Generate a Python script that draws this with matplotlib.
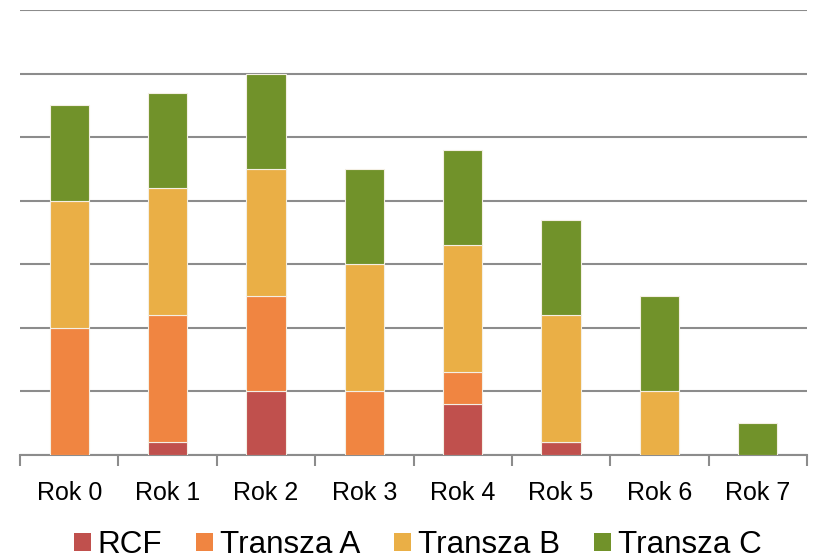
import matplotlib
matplotlib.use("Agg")
import matplotlib.pyplot as plt
from matplotlib.patches import Patch

categories = ["Rok 0", "Rok 1", "Rok 2", "Rok 3", "Rok 4", "Rok 5", "Rok 6", "Rok 7"]
series_names = ["RCF", "Transza A", "Transza B", "Transza C"]
rcf = [0.0, 0.2, 1.0, 0.0, 0.8, 0.2, 0.0, 0.0]
transza_a = [2.0, 2.0, 1.5, 1.0, 0.5, 0.0, 0.0, 0.0]
transza_b = [2.0, 2.0, 2.0, 2.0, 2.0, 2.0, 1.0, 0.0]
transza_c = [1.5, 1.5, 1.5, 1.5, 1.5, 1.5, 1.5, 0.5]
colors = ["#C0504D", "#F08541", "#EAAF46", "#71922A"]

plt.rcParams["font.family"] = ["Liberation Sans", "DejaVu Sans"]

fig = plt.figure(figsize=(8.13, 5.59), dpi=100)
ax = fig.add_axes([20 / 813, 104 / 559, 787 / 813, 445 / 559])

x = list(range(len(categories)))
bottom = [0.0] * len(categories)
for vals, col, name in zip([rcf, transza_a, transza_b, transza_c], colors, series_names):
    ax.bar(x, vals, width=0.4, bottom=bottom, color=col, edgecolor="#F4EFE4",
           linewidth=0.8, label=name, zorder=3)
    bottom = [b + v for b, v in zip(bottom, vals)]

ax.set_xlim(-0.5, len(categories) - 0.5)
ax.set_ylim(0, 7)
ax.set_yticks(range(0, 8))
ax.yaxis.grid(True, color="#8C8C8C", linewidth=1.5, zorder=0)
ax.tick_params(axis="y", left=False, labelleft=False)

ax.set_xticks([i - 0.5 for i in range(len(categories) + 1)], minor=True)
ax.set_xticks(x)
ax.set_xticklabels(categories, fontsize=18)
ax.tick_params(axis="x", which="major", length=0, pad=19)
ax.tick_params(axis="x", which="minor", length=8, width=1.5, color="#8C8C8C")

for side in ["top", "right", "left"]:
    ax.spines[side].set_visible(False)
ax.spines["bottom"].set_color("#8C8C8C")
ax.spines["bottom"].set_linewidth(1.5)

handles = [Patch(facecolor=c, edgecolor="none") for c in colors]
fig.legend(handles, series_names, loc="center", bbox_to_anchor=(417.5 / 813, 1 - 545 / 559),
           ncol=4, frameon=False, fontsize=22.6, handlelength=0.54, handleheight=0.54,
           handletextpad=0.22, columnspacing=1.08, borderaxespad=0, borderpad=0)

fig.savefig("out.png", dpi=100)
